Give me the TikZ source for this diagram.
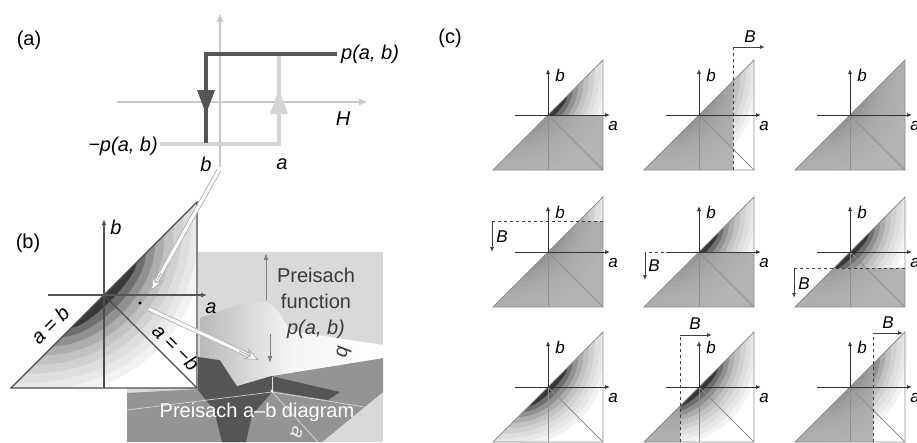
\documentclass[tikz,border=0pt]{standalone}
\usepackage{fontspec}
\setmainfont{Liberation Sans}
\usetikzlibrary{arrows.meta, calc}

\definecolor{axisgray}{HTML}{C9C9C9}
\definecolor{loopdark}{HTML}{555555}
\definecolor{looplight}{HTML}{D4D4D4}
\definecolor{panelgray}{HTML}{D9D9D9}
\definecolor{basegray}{HTML}{949494}
\definecolor{stripgray}{HTML}{555555}
\definecolor{edgegray}{HTML}{8E8E8E}
\definecolor{textgray}{HTML}{3A3A3A}

% density of the Preisach function, #1 = half size of the triangle
\newcommand{\pdensity}[1]{%
  \begin{scope}
    \clip (-#1,-#1) -- (#1,#1) -- (#1,-#1) -- cycle;
    \foreach \k/\g in {9/5,8/9,7/13,6/18,5/24,4/32,3/43,2/57,1/78}{
      \pgfmathsetmacro{\L}{(0.25+0.1*\k)*#1}
      \pgfmathsetmacro{\q}{\L-8*0.065*\k*#1/3}
      \fill[black!\g] (\L,\L) .. controls (\L,\q) and (-\q,-\L) .. (-\L,-\L) -- cycle;
    }
  \end{scope}}

% outline and axes of one small a-b diagram
\newcommand{\pframe}{%
  \draw[edge] (-55,-55) -- (55,55) -- (55,-55) -- cycle;
  \draw[edge] (0,0) -- (55,-55);
  \draw[edge] (0,-55) -- (0,0);
  \draw[caxis] (0,0) -- (0,46);
  \draw[caxis] (-33,0) -- (62,0);
  \node[clbl] (bb) at (12,40) {b};
  \node[clbl] (aa) at (65,-11) {a};}

\begin{document}
\begin{tikzpicture}[x=1pt, y=-1pt,
    lbl/.style={font=\fontsize{20}{24}\selectfont, inner sep=1pt},
    ilbl/.style={font=\fontsize{20}{24}\selectfont\itshape, inner sep=1pt},
    clbl/.style={font=\fontsize{17}{20}\selectfont\itshape, inner sep=1pt},
    aaxis/.style={draw=axisgray, line width=1.6pt, -{Latex[length=9pt, width=7pt]}},
    darkloop/.style={draw=loopdark, line width=3.6pt},
    lightloop/.style={draw=looplight, line width=3.2pt},
    baxis/.style={draw=loopdark, line width=1.3pt, -{Latex[length=6pt, width=5pt]}},
    bedge/.style={draw=black!70, line width=1.3pt},
    edge/.style={draw=edgegray, line width=0.9pt},
    caxis/.style={draw=black!80, line width=0.9pt, -{Latex[length=5pt, width=4pt]}},
    state/.style={fill=black!35, fill opacity=0.85},
    field/.style={draw=black!75, line width=0.9pt, dashed},
    fieldarrow/.style={draw=black!75, line width=0.9pt, -{Latex[length=5pt, width=4pt]}},
    dbl/.style={draw=gray!60, line width=0.9pt, double=white, double distance=3pt},
    dblhead/.style={draw=gray!60, line width=0.9pt, -{Stealth[length=15pt, width=12pt, inset=5pt, fill=white]}}]
\useasboundingbox (0,0) rectangle (917,442);

% (a) hysteron
\node[lbl] (tagA) at (29,40) {(a)};
\draw[aaxis] (220,167) -- (220,13);
\draw[aaxis] (117,102) -- (368,102);
\draw[lightloop] (160,144) -- (279,144) -- (279,54);
\draw[darkloop] (337,54) -- (206,54) -- (206,143);
\fill[loopdark] (197,90) -- (215,90) -- (206,114) -- cycle;
\fill[looplight] (270,114) -- (288,114) -- (279,89) -- cycle;
\node[ilbl, anchor=west] (pab) at (340,54) {p(a, b)};
\node[ilbl, anchor=east] (mpab) at (159,146) {−p(a, b)};
\node[ilbl] (hb) at (206,164) {b};
\node[ilbl] (ha) at (282,164) {a};
\node[ilbl] (hH) at (343,119) {H};

% (b) 3D view of the Preisach function
\fill[panelgray] (198,252) rectangle (383,442);
\fill[panelgray] (127,388) rectangle (198,442);
\fill[basegray] (127,442) -- (127,393) -- (200,389) -- (200,352) -- (272,376) -- (383,358)
  -- (383,392) -- (322,442) -- cycle;
\fill[stripgray] (198,357) -- (220,360) -- (237,386) -- (271,376) -- (340,392) -- (328,400)
  -- (273,391) -- (252,415) -- (246,442) -- (222,442) -- (214,410) -- (198,390) -- cycle;
\draw[white!75!gray, line width=0.6pt] (127,410) -- (272,392) -- (383,410);
\draw[white!75!gray, line width=0.6pt] (272,392) -- (318,442);
\shade[left color=gray!55, right color=white, middle color=white!92!gray]
  (200,357) -- (200,318) .. controls (225,310) and (245,299) .. (263,302)
  .. controls (278,304) and (282,320) .. (291,331) -- (383,345) -- (383,358)
  -- (271,376) -- (237,386) -- (220,360) -- cycle;
\draw[draw=gray, line width=1pt, -{Latex[length=7pt, width=5pt]}] (266,300) -- (266,253);
\draw[draw=gray, line width=1pt, -{Latex[length=7pt, width=5pt]}] (270,334) -- (270,363);
\draw[white!80!gray, line width=0.8pt] (272,377) -- (272,390);
\fill[white] (272,391) circle (1.6);
\node[lbl, text=textgray, align=center, font=\fontsize{20}{26}\selectfont] (pfunc) at (316,303)
  {Preisach\\function\\\itshape p(a, b)};
\node[lbl, text=white] (pdiag) at (257,412) {Preisach a–b diagram};
\node[ilbl, text=textgray, rotate=-100] (pb) at (344,352) {b};
\node[ilbl, text=white!85!gray, rotate=-110] (pa) at (297,433) {a};

% (b) a-b diagram
\node[lbl] (tagB) at (28,243) {(b)};
\begin{scope}[shift={(104,295)}, yscale=-1]
  \pdensity{93}
  \draw[bedge] (-93,-93) -- (93,93) -- (93,-93) -- cycle;
  \draw[bedge] (0,0) -- (93,-93);
  \draw[bedge] (0,-93) -- (0,0);
  \draw[baxis] (0,0) -- (0,76);
  \draw[baxis] (-56,0) -- (103,0);
  \fill[black] (36,-8) coordinate (spot) circle (1.6);
\end{scope}
\node[ilbl] (ba) at (211,308) {a};
\node[ilbl] (bb) at (116,227) {b};
\node[ilbl, rotate=45] (diag) at (50,325) {a = b};
\node[ilbl, rotate=-45] (antidiag) at (176,347) {a = −b};

% arrows from the hysteron to its point, and from the point to p(a, b)
\coordinate (hstart) at (219,170);
\coordinate (hend) at (151,291);
\coordinate (pstart) at (149,309);
\coordinate (pend) at (259,360);
\draw[dbl] (hstart) -- ($(hstart)!0.92!(hend)$);
\draw[dblhead] ($(hstart)!0.85!(hend)$) -- (hend);
\draw[dbl] (pstart) -- ($(pstart)!0.9!(pend)$);
\draw[dblhead] ($(pstart)!0.82!(pend)$) -- (pend);

% (c) sequence of states
\node[lbl] (tagC) at (450,38) {(c)};
\begin{scope}[shift={(548,115)}, yscale=-1]
  \pdensity{55}
  \fill[state] (-55,-55) -- (55,-55) -- (55,0) -- (0,0) -- cycle;
  \pframe
\end{scope}
\begin{scope}[shift={(699,115)}, yscale=-1]
  \pdensity{55}
  \fill[state] (-55,-55) -- (34,-55) -- (34,34) -- cycle;
  \pframe
  \draw[field] (34,-55) -- (34,68);
  \draw[fieldarrow] (34,68) -- (66,68);
  \node[clbl] (B1) at (51,78) {B};
\end{scope}
\begin{scope}[shift={(850,115)}, yscale=-1]
  \pdensity{55}
  \fill[state] (-55,-55) -- (55,-55) -- (55,55) -- cycle;
  \pframe
\end{scope}
\begin{scope}[shift={(548,252)}, yscale=-1]
  \pdensity{55}
  \fill[state] (-55,-55) -- (55,-55) -- (55,31) -- (31,31) -- cycle;
  \pframe
  \draw[field] (55,31) -- (-56,31);
  \draw[fieldarrow] (-56,31) -- (-56,0);
  \node[clbl] (B2) at (-46,15) {B};
\end{scope}
\begin{scope}[shift={(699,252)}, yscale=-1]
  \pdensity{55}
  \fill[state] (-55,-55) -- (55,-55) -- (55,0) -- (0,0) -- cycle;
  \pframe
  \draw[field] (55,0) -- (-54,0);
  \draw[fieldarrow] (-54,0) -- (-54,-28);
  \node[clbl] (B3) at (-45,-14) {B};
\end{scope}
\begin{scope}[shift={(850,252)}, yscale=-1]
  \pdensity{55}
  \fill[state] (-55,-55) -- (55,-55) -- (55,-16) -- (-16,-16) -- cycle;
  \pframe
  \draw[field] (55,-16) -- (-56,-16);
  \draw[fieldarrow] (-56,-16) -- (-56,-46);
  \node[clbl] (B4) at (-46,-32) {B};
\end{scope}
\begin{scope}[shift={(548,387)}, yscale=-1]
  \pdensity{55}
  \pframe
\end{scope}
\begin{scope}[shift={(699,387)}, yscale=-1]
  \pdensity{55}
  \fill[state] (-55,-55) -- (-19,-55) -- (-19,-19) -- cycle;
  \pframe
  \draw[field] (-19,-55) -- (-19,52);
  \draw[fieldarrow] (-19,52) -- (13,52);
  \node[clbl] (B5) at (-4,63) {B};
\end{scope}
\begin{scope}[shift={(850,387)}, yscale=-1]
  \pdensity{55}
  \fill[state] (-55,-55) -- (23,-55) -- (23,23) -- cycle;
  \pframe
  \draw[field] (23,-55) -- (23,54);
  \draw[fieldarrow] (23,54) -- (53,54);
  \node[clbl] (B6) at (38,64) {B};
\end{scope}
\end{tikzpicture}
\end{document}
